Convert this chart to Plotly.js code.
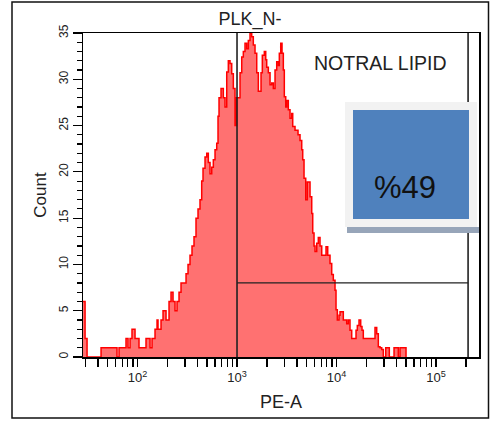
<!DOCTYPE html>
<html>
<head>
<meta charset="utf-8">
<script src="https://cdn.plot.ly/plotly-3.0.1.min.js"></script>
<style>html,body{margin:0;padding:0;background:#fff;}#chart{width:490px;height:423px;}</style>
</head>
<body>
<div id="chart"></div>
<script>
// PE-A channel values (bin positions) and event counts
const peA = [28.3,29.7,31.1,43.0,62.2,65.2,76.6,80.3,84.1,88.0,94.4,98.9,103.5,113.6,121.7,133.6,139.9,149.9,157.1,160.7,
  172.3,180.5,193.4,207.3,217.1,227.4,238.2,249.5,261.3,273.6,293.4,307.3,321.8,337.0,352.9,369.6,387.1,405.5,424.6,441.7,
  455.3,476.9,496.1,514.8,535.4,556.9,577.9,601.1,625.2,644.2,659.4,690.6,728.4,757.6,788.0,817.7,850.4,884.6,918.0,954.8,
  988.6,1031,1072,1115,1157,1203,1252,1299,1351,1405,1458,1517,1578,1637,1703,1743,1796,1881,1943,1988,
  2064,2147,2232,2317,2410,2506,2601,2662,2750,2834,2920,2988,3086,3159,3278,3410,3546,3629,3828,4104,
  4297,4470,4574,4715,4904,5089,5208,5417,5634,5766,5942,6081,6324,6563,6826,7100,7488,7843,8157,8603,
  8948,9286,9658,9885,10186,10595,10844,11279,11703,12173,12660,13138,13665,14213,14990,15703,16181,16831,17505,18040,
  18589,23271,24372,25351,26307,27364,28463,29537,31224,32403,33937,37848,40272,41792,43469,46931,49948];
const counts = [6,2,0,1,0,1,2,1,2,3,2,2,1,1,2,1,2,3,4,3,
  4,5,4,6,7,6,5,6,7,8,8,9,10,11,12,13,15,16,17,19,
  20.4,21.6,22,21,19.8,20.5,21.3,22.4,23.1,26,28,29,28,27,30.8,32,31.7,30.6,29,25,
  28,28,30.7,32.4,33,33.9,33.3,34.2,35,34.6,33.7,32.8,30.7,28.7,28.7,30.7,32.6,33,32.1,31.3,
  30.7,29.4,29.6,29,31,31.9,31.5,32.8,33.9,32.8,31,28.1,27,27.7,26.7,25.8,26.3,24.9,24.5,24,
  23.4,22.4,21.3,19.3,17,18.9,18.9,17.3,15.5,13.4,12,11.4,12.3,12.9,12,11,11,11.9,11,10.1,
  8.9,8.3,7.2,5.1,4,4.5,4.9,4.9,4,4,3.6,4,2.9,2,2,2.9,3.4,4,3.3,2.9,
  2,2,3.2,2.5,1.1,1,0.8,0,1,1,0,1,1,0,1,1,0];

// x tick positions and labels
const xTickVals = [30,40,50,60,70,80,90,100,200,300,400,500,600,700,800,900,
  1000,2000,3000,4000,5000,6000,7000,8000,9000,10000,20000,30000,40000,50000,60000,70000,80000,90000,100000,200000];
const decadeLabels = {100:'10<sup>2</sup>',1000:'10<sup>3</sup>',10000:'10<sup>4</sup>',100000:'10<sup>5</sup>'};
const xTickText = xTickVals.map(v => decadeLabels[v] || '');

// gates
const gateLow = 1000, gateHigh = 210000, gateCount = 8;
const gatePercent = '%49';
const gateName = 'NOTRAL LIPID';
const sampleName = 'PLK_N-';

const FONT = 'Liberation Sans, Arial, sans-serif';

const trace = {
  x: peA, y: counts, type: 'scatter', mode: 'lines',
  line: {shape: 'hv', color: '#ff0000', width: 1.5},
  fill: 'tozeroy', fillcolor: '#ff7171', hoverinfo: 'skip'
};

function px2x(px){ return (px-83)/396; }
function px2y(py){ return (357-py)/324; }

const layout = {
  width: 490, height: 423,
  margin: {l: 83, r: 11, t: 33, b: 66},
  paper_bgcolor: '#ffffff', plot_bgcolor: '#ffffff',
  showlegend: false,
  font: {family: FONT, color: '#222'},
  title: {text: sampleName, font: {family: FONT, size: 18, color: '#222'},
    xref: 'paper', x: px2x(250), xanchor: 'center', yref: 'container', y: 1 - 19/423, yanchor: 'middle'},
  xaxis: {
    type: 'log', range: [1.452, 5.432],
    tickmode: 'array', tickvals: xTickVals, ticktext: xTickText, tickangle: 0,
    ticks: 'outside', ticklen: 8, tickwidth: 1.2, tickcolor: '#000',
    showline: true, linecolor: '#000', linewidth: 1.5, mirror: true,
    showgrid: false, zeroline: false,
    tickfont: {family: FONT, size: 13, color: '#222'},
    title: {text: 'PE-A', font: {family: FONT, size: 18, color: '#222'}, standoff: 11}
  },
  yaxis: {
    range: [0, 35], dtick: 5, tick0: 0,
    ticks: 'outside', ticklen: 9, tickwidth: 1.2, tickcolor: '#000',
    minor: {dtick: 1, ticks: 'outside', ticklen: 5, tickwidth: 1.2, tickcolor: '#000', showgrid: false},
    tickangle: -90,
    showline: true, linecolor: '#000', linewidth: 1.5, mirror: true,
    showgrid: false, zeroline: false,
    tickfont: {family: FONT, size: 12, color: '#222'},
    title: {text: 'Count', font: {family: FONT, size: 17, color: '#222'}, standoff: 6}
  },
  shapes: [
    // gate lines
    {type: 'line', xref: 'x', yref: 'paper', x0: gateLow, x1: gateLow, y0: 0, y1: 1, line: {color: '#222', width: 1.6}, layer: 'above'},
    {type: 'line', xref: 'x', yref: 'paper', x0: gateHigh, x1: gateHigh, y0: 0, y1: 1, line: {color: '#222', width: 1.6}, layer: 'above'},
    {type: 'line', xref: 'x', yref: 'y', x0: gateLow, x1: gateHigh, y0: gateCount, y1: gateCount, line: {color: '#222', width: 1.3}, layer: 'above'},
    // box shadow, frame, fill
    {type: 'rect', xref: 'paper', yref: 'paper', x0: px2x(347), x1: px2x(479), y0: px2y(233), y1: px2y(227), fillcolor: '#97a5b9', line: {width: 0}, layer: 'above'},
    {type: 'rect', xref: 'paper', yref: 'paper', x0: px2x(345), x1: px2x(477), y0: px2y(227), y1: px2y(102), fillcolor: '#f2f2f2', line: {width: 0}, layer: 'above'},
    {type: 'rect', xref: 'paper', yref: 'paper', x0: px2x(353), x1: px2x(469), y0: px2y(219), y1: px2y(110), fillcolor: '#4f81bd', line: {width: 0}, layer: 'above'},
    // outer border
    {type: 'rect', xref: 'paper', yref: 'paper', x0: px2x(12), x1: px2x(488.5), y0: px2y(418), y1: px2y(2), fillcolor: 'rgba(0,0,0,0)', line: {color: '#111', width: 1.5}, layer: 'above'}
  ],
  annotations: [
    {text: gateName, xref: 'paper', yref: 'paper', x: px2x(380), y: px2y(63), xanchor: 'center', yanchor: 'middle', showarrow: false,
     font: {family: FONT, size: 19.5, color: '#222'}},
    {text: gatePercent, xref: 'paper', yref: 'paper', x: px2x(405), y: px2y(187), xanchor: 'center', yanchor: 'middle', showarrow: false,
     font: {family: FONT, size: 31, color: '#111'}}
  ]
};

Plotly.newPlot('chart', [trace], layout, {displayModeBar: false, staticPlot: true});
</script>
</body>
</html>
